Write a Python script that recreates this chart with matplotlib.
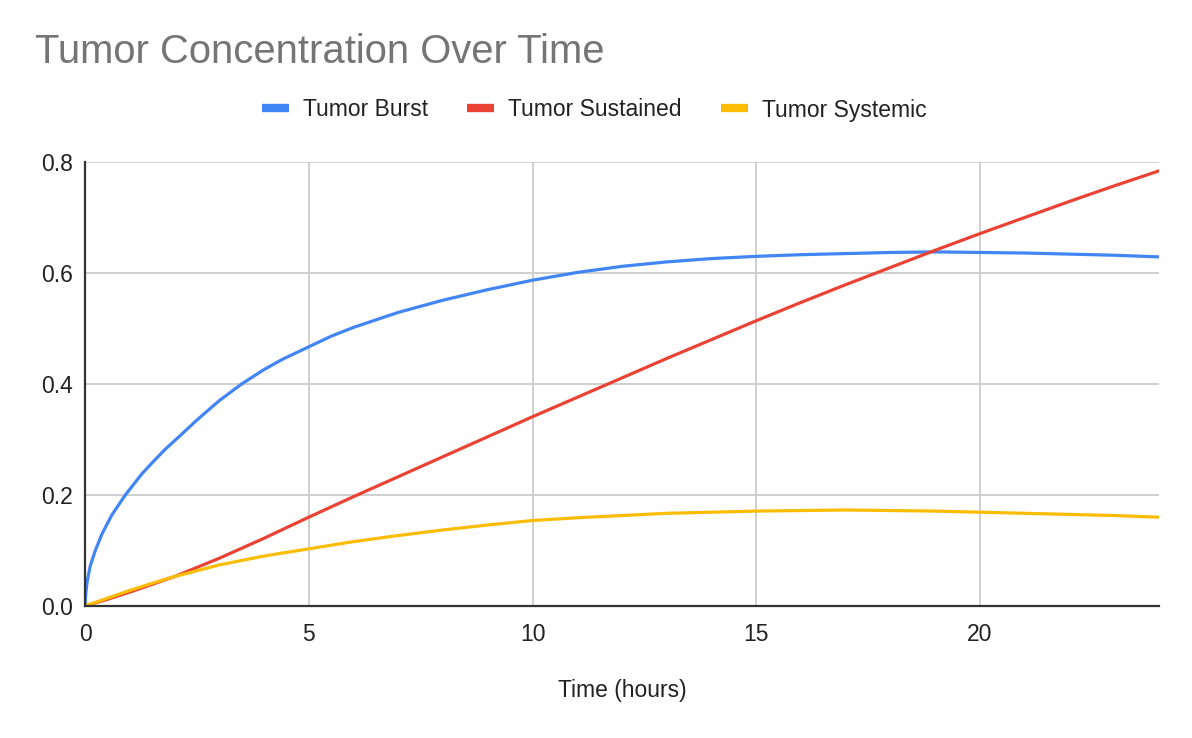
import matplotlib.pyplot as plt
from matplotlib.lines import Line2D

# values
time_burst = [0, 0.02, 0.05, 0.12, 0.23, 0.38, 0.6, 0.9, 1.28, 1.5, 1.8, 2.1,
              2.5, 3, 3.5, 4, 4.4, 5, 5.5, 6, 7, 8, 9, 10, 11, 12, 13, 14, 15,
              16, 17, 18, 19, 20, 21, 22, 23, 24]
tumor_burst = [0, 0.025, 0.045, 0.073, 0.10, 0.13, 0.164, 0.200, 0.239,
               0.258, 0.283, 0.305, 0.335, 0.370, 0.400, 0.426, 0.444, 0.467,
               0.486, 0.502, 0.529, 0.551, 0.570, 0.587, 0.601, 0.612, 0.620,
               0.626, 0.630, 0.633, 0.635, 0.637, 0.638, 0.637, 0.636, 0.634,
               0.632, 0.629]

time_other = [0, 0.5, 1, 1.5, 2, 3, 4, 5, 6, 7, 8, 9, 10, 11, 12, 13, 14, 15,
              16, 17, 18, 19, 20, 21, 22, 23, 24]
tumor_sustained = [0, 0.012, 0.025, 0.039, 0.053, 0.086, 0.122, 0.160, 0.197,
                   0.233, 0.269, 0.305, 0.341, 0.376, 0.411, 0.446, 0.480,
                   0.514, 0.547, 0.579, 0.610, 0.641, 0.671, 0.700, 0.729,
                   0.757, 0.784]
tumor_systemic = [0, 0.014, 0.028, 0.041, 0.053, 0.074, 0.090, 0.103, 0.116,
                  0.127, 0.137, 0.146, 0.154, 0.159, 0.163, 0.167, 0.169,
                  0.171, 0.172, 0.173, 0.172, 0.171, 0.169, 0.167, 0.165,
                  0.163, 0.160]

x_ticks = [0, 5, 10, 15, 20]
y_ticks = [0.0, 0.2, 0.4, 0.6, 0.8]
series_names = ["Tumor Burst", "Tumor Sustained", "Tumor Systemic"]
colors = ["#4285F4", "#EA4335", "#FBBC04"]

plt.rcParams['font.family'] = ['Liberation Sans', 'DejaVu Sans']

fig = plt.figure(figsize=(11.92, 7.38), dpi=100)
ax = fig.add_axes([85 / 1192, 132 / 738, 1074 / 1192, 444 / 738])

ax.plot(time_burst, tumor_burst, color=colors[0], lw=2.3, zorder=3,
        solid_joinstyle="round")
ax.plot(time_other, tumor_sustained, color=colors[1], lw=2.3, zorder=3,
        solid_joinstyle="round")
ax.plot(time_other, tumor_systemic, color=colors[2], lw=2.3, zorder=4,
        solid_joinstyle="round")

ax.set_xlim(0, 24)
ax.set_ylim(0, 0.8)
ax.set_xticks(x_ticks)
ax.set_yticks(y_ticks)
ax.set_yticklabels([f"{v:.1f}" for v in y_ticks])
ax.tick_params(length=0, labelsize=16.5, colors="#222222")
ax.tick_params(axis='x', pad=12)
ax.tick_params(axis='y', pad=9)
ax.grid(True, color="#cccccc", lw=1.3)
ax.set_axisbelow(True)
for side in ["top", "right"]:
    ax.spines[side].set_visible(False)
for side in ["left", "bottom"]:
    ax.spines[side].set_color("#333333")
    ax.spines[side].set_linewidth(1.6)
    ax.spines[side].set_zorder(5)

ax.set_xlabel("Time (hours)", fontsize=16.5, color="#222222", labelpad=24)

fig.text(35 / 1192, 1 - 52 / 738, "Tumor Concentration Over Time",
         fontsize=28.8, color="#757575", va="center", ha="left")

handles = [Line2D([0], [0], color=c, lw=6, solid_capstyle="butt") for c in colors]
fig.legend(handles, series_names, loc="center", bbox_to_anchor=(594 / 1192, 1 - 110 / 738),
           ncol=3, frameon=False, fontsize=16.5, handlelength=1.2,
           handletextpad=0.6, columnspacing=1.7, labelcolor="#222222")

fig.savefig("out.png", dpi=100)
